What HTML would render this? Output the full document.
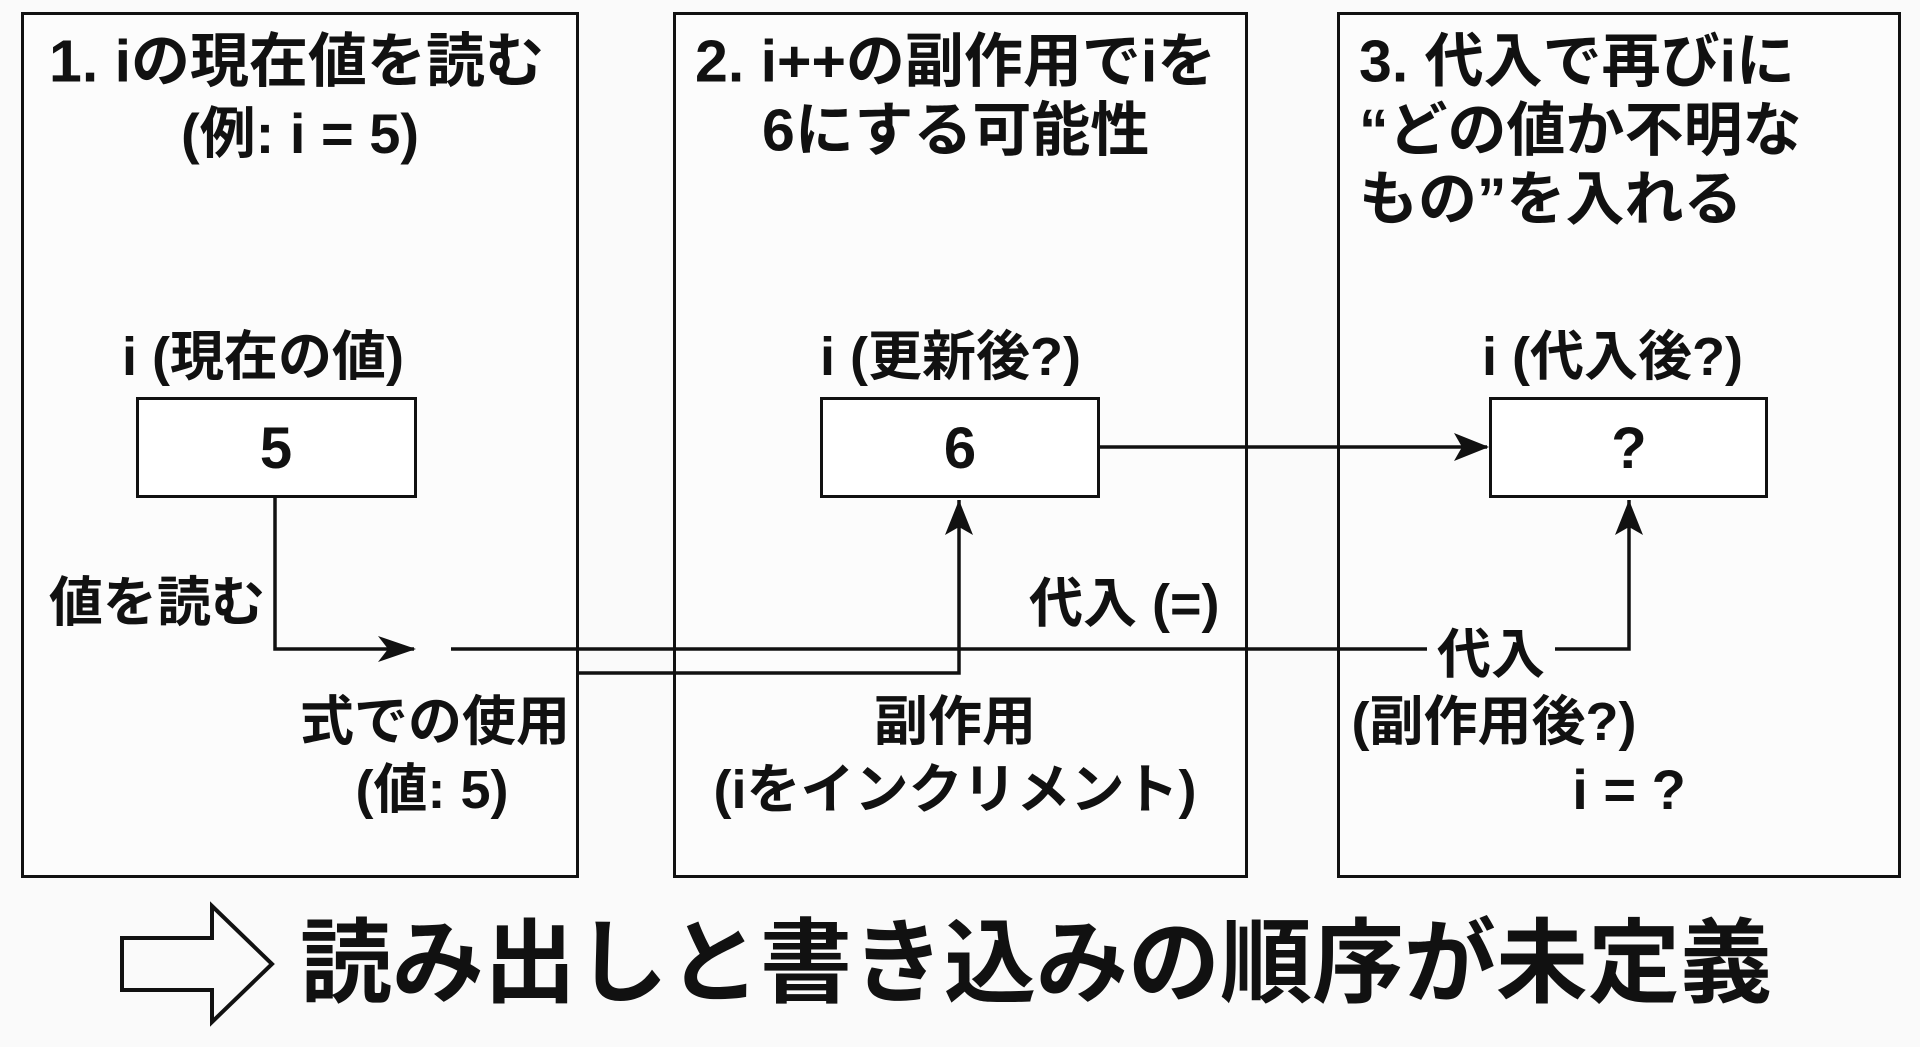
<!DOCTYPE html>
<html><head><meta charset="utf-8"><style>
body{margin:0;width:1920px;height:1047px;background:#fafafa;position:relative;overflow:hidden;font-family:"Liberation Sans","Noto Sans CJK JP",sans-serif;font-weight:bold;color:#111}
.t{position:absolute;white-space:nowrap;line-height:1}
.c{transform:translate(-50%,-50%)}
.l{transform:translateY(-50%)}
.p{position:absolute;border:3px solid #111;background:#fcfcfc;box-sizing:border-box}
.b{position:absolute;border:3px solid #111;box-sizing:border-box;background:#fff}
</style></head><body>
<div class="p" style="left:21px;top:12px;width:558px;height:866px"></div>
<div class="p" style="left:673px;top:12px;width:575px;height:866px"></div>
<div class="p" style="left:1337px;top:12px;width:564px;height:866px"></div>
<div class="b" style="left:136px;top:397px;width:281px;height:101px"></div>
<div class="b" style="left:820px;top:397px;width:280px;height:101px"></div>
<div class="b" style="left:1489px;top:397px;width:279px;height:101px"></div>
<svg width="1920" height="1047" style="position:absolute;left:0;top:0">
<g stroke="#111" stroke-width="3.5" fill="none">
<path d="M275,497 V649 H414"/>
<path d="M378,636 L416,649 L378,662 L388,649z" fill="#111" stroke="none"/>
<path d="M451,649 H1427 M1555,649 H1629 V500"/>
<path d="M1629,500 L1615,535 L1629,527 L1643,535z" fill="#111" stroke="none"/>
<path d="M578,673 H959 V500"/>
<path d="M959,500 L945,535 L959,527 L973,535z" fill="#111" stroke="none"/>
<path d="M1100,447 H1487"/>
<path d="M1489,447 L1454,433 L1462,447 L1454,461z" fill="#111" stroke="none"/>
<path d="M122,938 H212 V906 L272,964 L212,1022 V990 H122z" stroke-width="4"/>
</g></svg>
<div class="t l" style="left:49px;top:62px;font-size:59px">1. iの現在値を読む</div>
<div class="t c" style="left:300px;top:134px;font-size:56px">(例: i = 5)</div>
<div class="t l" style="left:695px;top:62px;font-size:59px">2. i++の副作用でiを</div>
<div class="t l" style="left:762px;top:131px;font-size:59px">6にする可能性</div>
<div class="t l" style="left:1359px;top:62px;font-size:59px">3. 代入で再びiに</div>
<div class="t l" style="left:1359px;top:131px;font-size:59px">“どの値か不明な</div>
<div class="t l" style="left:1359px;top:200px;font-size:59px">もの”を入れる</div>
<div class="t l" style="left:122px;top:357px;font-size:54px">i (現在の値)</div>
<div class="t l" style="left:820px;top:357px;font-size:54px">i (更新後?)</div>
<div class="t l" style="left:1482px;top:357px;font-size:54px">i (代入後?)</div>
<div class="t c" style="left:276px;top:449px;font-size:58px">5</div>
<div class="t c" style="left:960px;top:449px;font-size:58px">6</div>
<div class="t c" style="left:1629px;top:449px;font-size:58px">?</div>
<div class="t l" style="left:49px;top:603px;font-size:54px">値を読む</div>
<div class="t l" style="left:300px;top:722px;font-size:54px">式での使用</div>
<div class="t c" style="left:432px;top:790px;font-size:54px">(値: 5)</div>
<div class="t l" style="left:1029px;top:604px;font-size:54px">代入 (=)</div>
<div class="t c" style="left:955px;top:722px;font-size:54px">副作用</div>
<div class="t c" style="left:955px;top:790px;font-size:54px">(iをインクリメント)</div>
<div class="t c" style="left:1491px;top:655px;font-size:54px">代入</div>
<div class="t c" style="left:1494px;top:722px;font-size:54px">(副作用後?)</div>
<div class="t c" style="left:1629px;top:790px;font-size:56px">i = ?</div>
<div class="t l" style="left:300px;top:964px;font-size:92px">読み出しと書き込みの順序が未定義</div>
</body></html>
